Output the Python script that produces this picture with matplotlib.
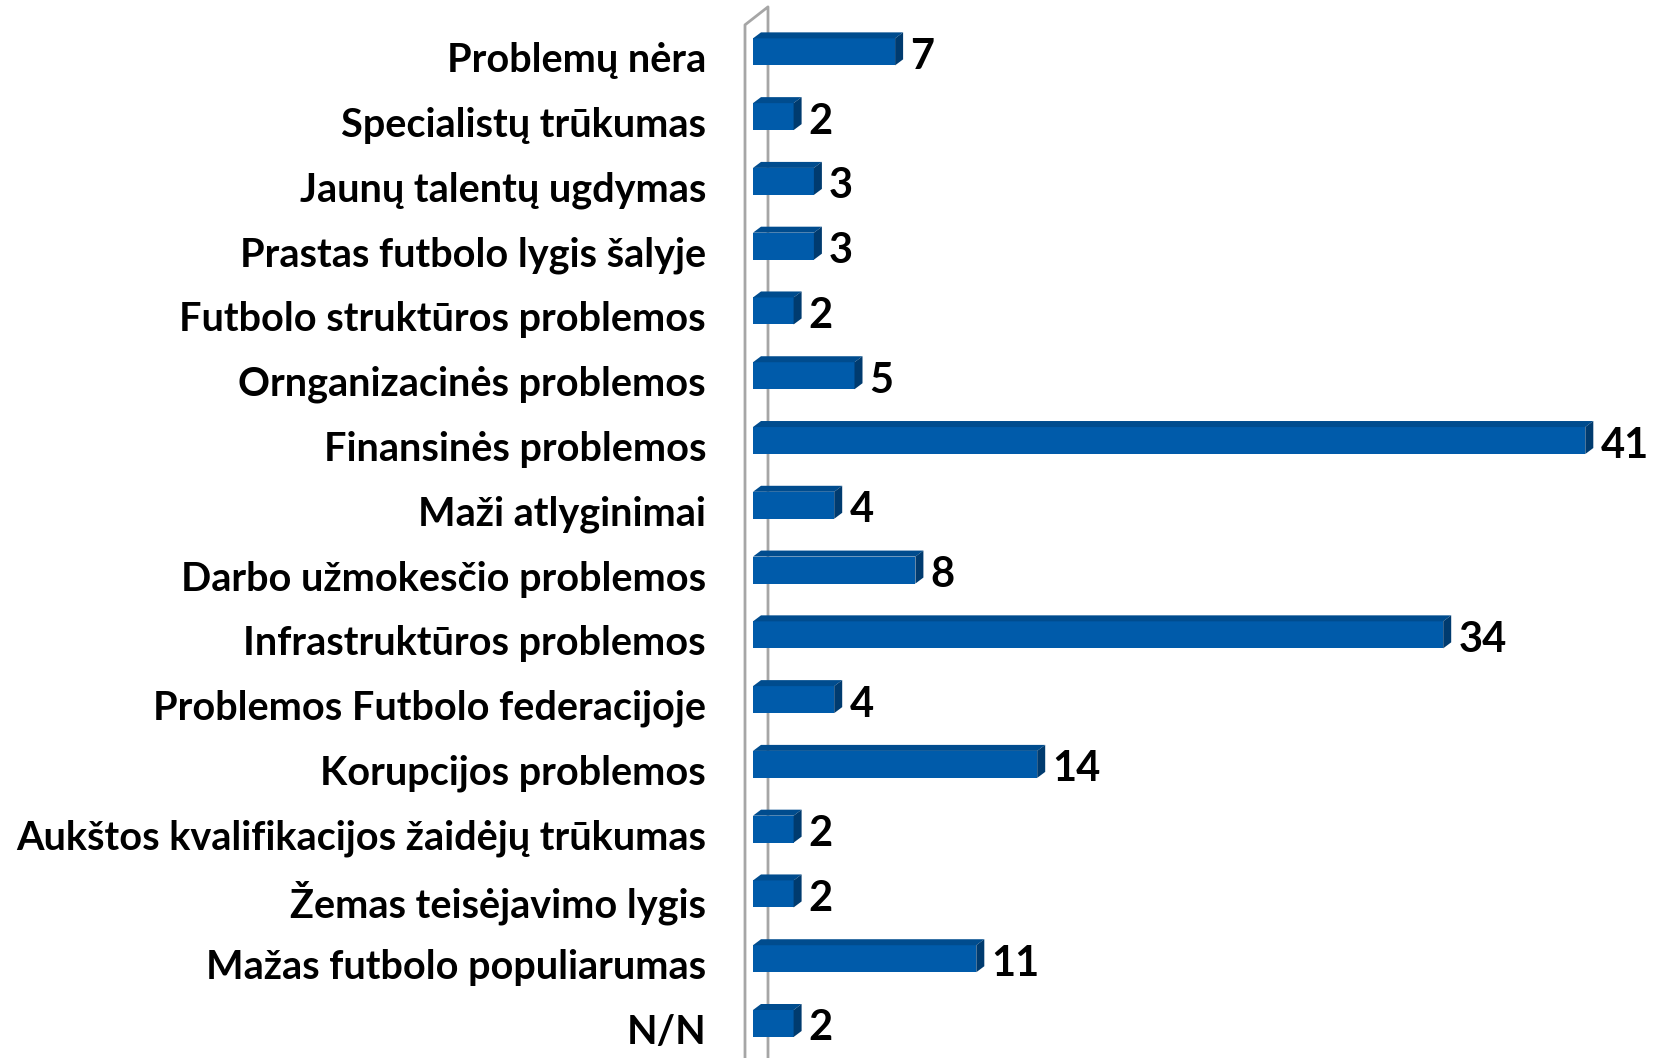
import matplotlib.pyplot as plt
from matplotlib.patches import Polygon
from matplotlib.lines import Line2D
from matplotlib.transforms import offset_copy

categories = [
    "Problemų nėra",
    "Specialistų trūkumas",
    "Jaunų talentų ugdymas",
    "Prastas futbolo lygis šalyje",
    "Futbolo struktūros problemos",
    "Ornganizacinės problemos",
    "Finansinės problemos",
    "Maži atlyginimai",
    "Darbo užmokesčio problemos",
    "Infrastruktūros problemos",
    "Problemos Futbolo federacijoje",
    "Korupcijos problemos",
    "Aukštos kvalifikacijos žaidėjų trūkumas",
    "Žemas teisėjavimo lygis",
    "Mažas futbolo populiarumas",
    "N/N",
]
values = [7, 2, 3, 3, 2, 5, 41, 4, 8, 34, 4, 14, 2, 2, 11, 2]

front_col = "#005BAA"
top_col = "#004C8E"
side_col = "#003B6F"
wall_col = "#A6A6A6"

fig = plt.figure(figsize=(16.59, 10.58), dpi=100)
ax = fig.add_axes([753 / 1659, 0.002, 1 - 753 / 1659, 0.9796])

ux = 20.3       # px per unit
uy = 64.8       # px per row
dx = 8 / ux     # depth offset
dy = 6 / uy
h = 27 / uy

ypos = list(range(len(categories)))
ax.barh(ypos, values, height=h, color=front_col, zorder=3)

val_tr = offset_copy(ax.transData, fig=fig, x=0, y=-5, units="dots")
lab_tr = offset_copy(ax.transData, fig=fig, x=-47, y=-9, units="dots")
for y, v, name in zip(ypos, values, categories):
    top = y - h / 2
    bot = y + h / 2
    ax.add_patch(Polygon([(0, top), (v, top), (v + dx, top - dy), (dx, top - dy)],
                         closed=True, facecolor=top_col, edgecolor="none", zorder=3))
    ax.add_patch(Polygon([(v, top), (v + dx, top - dy), (v + dx, bot - dy), (v, bot)],
                         closed=True, facecolor=side_col, edgecolor="none", zorder=3))
    ax.text(v + dx + 0.35, y, str(v), va="center", ha="left", transform=val_tr,
            fontsize=30, fontweight="bold", family="Lato", color="black")
    ax.text(0, y, name, va="center", ha="right", transform=lab_tr, clip_on=False,
            fontsize=28.5, fontweight="bold", family="Lato", color="black")

ax.set_xlim(0, (1659 - 753) / ux)
ax.set_ylim(len(categories) - 0.5, -0.5)

# back wall outline
wf = -8 / ux
wb = 15 / ux
ax.add_line(Line2D([wf, wf, wb, wb], [17.5, -0.5 + (25 - 19.6) / uy, -0.5 - (19.6 - 7) / uy, 15.7],
                   color=wall_col, lw=2, clip_on=False, zorder=1))
ax.add_line(Line2D([wb, wf + 0.2], [15.7, 15.98], color=wall_col, lw=2, clip_on=False, zorder=1))

ax.set_xticks([])
ax.set_yticks([])
for s in ax.spines.values():
    s.set_visible(False)

fig.savefig("out.png", dpi=100)
